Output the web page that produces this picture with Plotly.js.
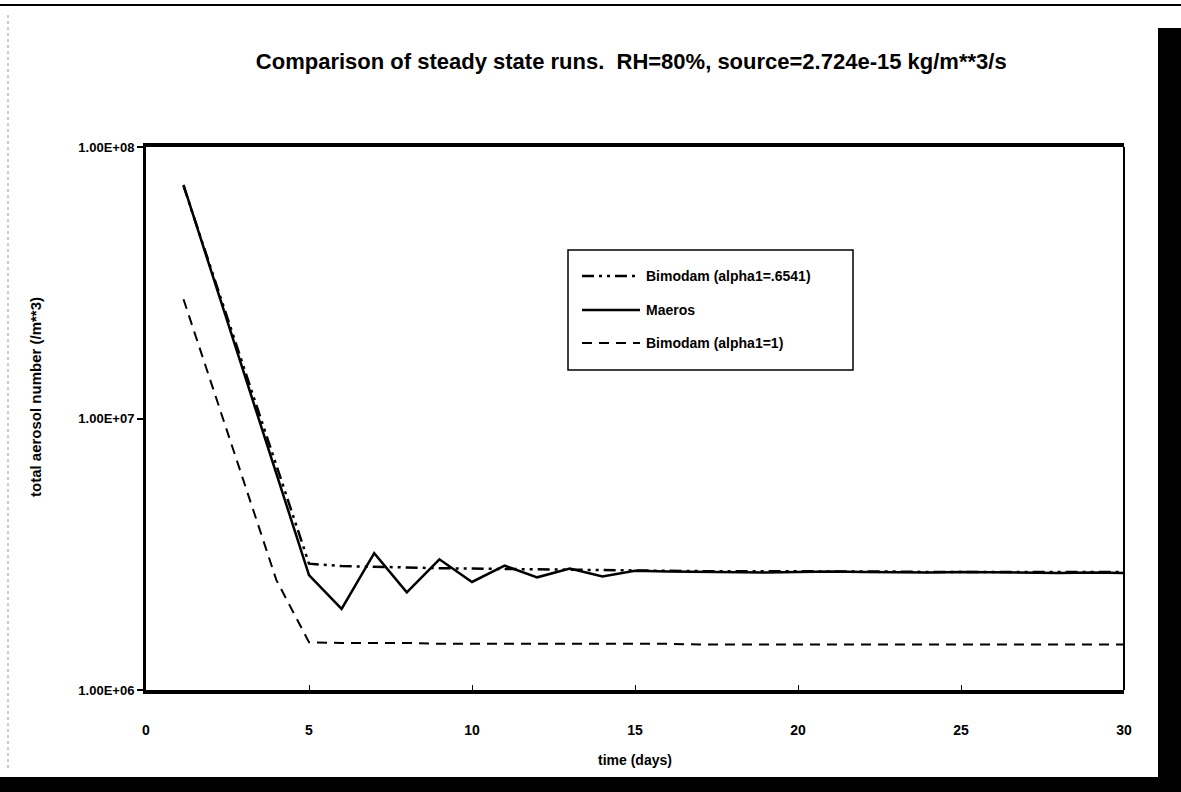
<!DOCTYPE html>
<html>
<head>
<meta charset="utf-8">
<script src="https://cdn.plot.ly/plotly-3.0.1.min.js"></script>
<style>
  html, body { margin: 0; padding: 0; background: #ffffff; }
  #chart { width: 1181px; height: 792px; }
</style>
</head>
<body>
<div id="chart"></div>
<script>
// ---- data ----
const seriesNames = ["Bimodam (alpha1=.6541)", "Maeros", "Bimodam (alpha1=1)"];

const daysBimodam6541 = [1.15, 5, 6, 7, 8, 9, 10, 11, 12, 13, 14, 15, 16, 17, 18, 19, 20, 21, 22, 23, 24, 25, 26, 27, 28, 29, 30];
const valsBimodam6541 = [7.2e7, 2.92e6, 2.86e6, 2.84e6, 2.82e6, 2.81e6, 2.80e6, 2.79e6, 2.78e6, 2.77e6, 2.76e6, 2.75e6, 2.75e6, 2.74e6, 2.74e6, 2.74e6, 2.73e6, 2.73e6, 2.73e6, 2.73e6, 2.72e6, 2.72e6, 2.72e6, 2.72e6, 2.72e6, 2.72e6, 2.72e6];

const daysMaeros = [1.15, 5, 6, 7, 8, 9, 10, 11, 12, 13, 14, 15, 16, 17, 18, 19, 20, 21, 22, 23, 24, 25, 26, 27, 28, 29, 30];
const valsMaeros = [7.25e7, 2.65e6, 1.99e6, 3.19e6, 2.29e6, 3.03e6, 2.50e6, 2.87e6, 2.60e6, 2.80e6, 2.62e6, 2.75e6, 2.73e6, 2.72e6, 2.72e6, 2.71e6, 2.72e6, 2.73e6, 2.72e6, 2.71e6, 2.71e6, 2.72e6, 2.71e6, 2.71e6, 2.70e6, 2.71e6, 2.70e6];

const daysBimodam1 = [1.15, 4, 5, 6, 7, 8, 9, 10, 11, 12, 13, 14, 15, 16, 17, 18, 19, 20, 21, 22, 23, 24, 25, 26, 27, 28, 29, 30];
const valsBimodam1 = [2.75e7, 2.54e6, 1.50e6, 1.49e6, 1.49e6, 1.49e6, 1.48e6, 1.48e6, 1.48e6, 1.48e6, 1.48e6, 1.48e6, 1.48e6, 1.48e6, 1.47e6, 1.47e6, 1.47e6, 1.47e6, 1.47e6, 1.47e6, 1.47e6, 1.47e6, 1.47e6, 1.47e6, 1.47e6, 1.47e6, 1.47e6, 1.47e6];

const xTickVals = [0, 5, 10, 15, 20, 25, 30];
const yTickVals = [1e6, 1e7, 1e8];
const yTickText = ["1.00E+06", "1.00E+07", "1.00E+08"];

const FONT = "Liberation Sans, Arial, sans-serif";

const lineStyles = [
  { color: "#000", width: 2.5, dash: "12px,5px,3px,5px,3px,5px" },
  { color: "#000", width: 2.5 },
  { color: "#000", width: 2, dash: "10px,7px" }
];

const traces = [
  { x: daysBimodam6541, y: valsBimodam6541, name: seriesNames[0], mode: "lines", line: lineStyles[0] },
  { x: daysMaeros, y: valsMaeros, name: seriesNames[1], mode: "lines", line: lineStyles[1] },
  { x: daysBimodam1, y: valsBimodam1, name: seriesNames[2], mode: "lines", line: lineStyles[2] }
];

// pixel helpers (paper coordinates) for legend box and scan borders
const L = 146, R = 57, T = 147, B = 102;
const PW = 1181 - L - R, PH = 792 - T - B;
const px = v => (v - L) / PW;
const py = v => (792 - B - v) / PH;

const shapes = [
  // right frame line
  { type: "line", xref: "paper", yref: "paper", x0: 1, x1: 1, y0: 0, y1: 1, line: { color: "#000", width: 2 } },
  // scan border: top rule
  { type: "line", xref: "paper", yref: "paper", x0: px(0), x1: px(1181), y0: py(5), y1: py(5), line: { color: "#000", width: 2 } },
  // scan border: right black band
  { type: "rect", xref: "paper", yref: "paper", x0: px(1158), x1: px(1181), y0: py(28), y1: py(792), fillcolor: "#000", line: { width: 0 } },
  // scan border: bottom black band
  { type: "rect", xref: "paper", yref: "paper", x0: px(0), x1: px(1181), y0: py(777), y1: py(792), fillcolor: "#000", line: { width: 0 } },
  // scan border: faint left rule
  { type: "line", xref: "paper", yref: "paper", x0: px(8), x1: px(8), y0: py(15), y1: py(770), line: { color: "#999", width: 1, dash: "dot" } },
  // legend box
  { type: "rect", xref: "paper", yref: "paper", x0: px(568), x1: px(853), y0: py(250), y1: py(370), fillcolor: "#fff", line: { color: "#000", width: 1.5 } }
];

const annotations = [
  // y-axis title
  { xref: "paper", yref: "paper", x: px(35), y: py(397), xanchor: "center", yanchor: "middle",
    textangle: -90, showarrow: false,
    text: "<b>total aerosol number (/m**3)</b>", font: { family: FONT, size: 15, color: "#000" } }
];
const legendRows = [276, 310, 343];
seriesNames.forEach((name, i) => {
  shapes.push({ type: "line", xref: "paper", yref: "paper",
    x0: px(582), x1: px(640), y0: py(legendRows[i]), y1: py(legendRows[i]), line: lineStyles[i] });
  annotations.push({ xref: "paper", yref: "paper", x: px(644), y: py(legendRows[i]),
    xanchor: "left", yanchor: "middle", showarrow: false,
    text: "<b>" + name + "</b>", font: { family: FONT, size: 14, color: "#000" } });
});

const layout = {
  width: 1181, height: 792,
  margin: { l: L, r: R, t: T, b: B },
  paper_bgcolor: "#ffffff",
  plot_bgcolor: "#ffffff",
  font: { family: FONT, color: "#000", size: 13 },
  title: {
    text: "<b>Comparison of steady state runs.  RH=80%, source=2.724e-15 kg/m**3/s</b>",
    font: { family: FONT, size: 22, color: "#000" },
    x: 0.5345, xanchor: "center", y: 0.922, yanchor: "middle"
  },
  showlegend: false,
  xaxis: {
    range: [0, 30], tickvals: xTickVals, ticktext: xTickVals.map(v => "<b>" + v + "</b>"),
    showgrid: false, zeroline: false,
    showline: true, linecolor: "#000", linewidth: 4, mirror: true,
    ticks: "inside", ticklen: 5, tickwidth: 1, tickcolor: "#000",
    ticklabelstandoff: 24,
    tickfont: { family: FONT, size: 14, color: "#000" },
    title: { text: "<b>time (days)</b>", font: { family: FONT, size: 14, color: "#000" }, standoff: 19 }
  },
  yaxis: {
    type: "log", range: [6, 8], tickvals: yTickVals, ticktext: yTickText.map(t => "<b>" + t + "</b>"),
    showgrid: false, zeroline: false,
    showline: true, linecolor: "#000", linewidth: 3, mirror: false,
    ticks: "outside", ticklen: 6, tickwidth: 2, tickcolor: "#000",
    ticklabelstandoff: 0,
    tickfont: { family: FONT, size: 13, color: "#000" }
  },
  shapes: shapes,
  annotations: annotations
};

Plotly.newPlot("chart", traces, layout, { displayModeBar: false, staticPlot: true });
</script>
</body>
</html>
